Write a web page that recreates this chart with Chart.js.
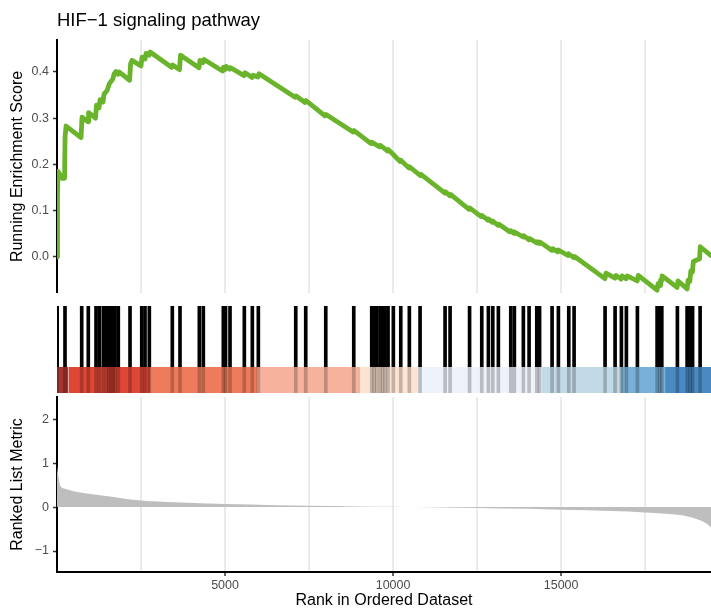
<!DOCTYPE html>
<html>
<head>
<meta charset="utf-8">
<script src="https://cdn.jsdelivr.net/npm/chart.js@4.4.0/dist/chart.umd.min.js"></script>
<style>
  html, body { margin: 0; padding: 0; background: #fff; }
  #wrap { position: relative; width: 711px; height: 609px; overflow: hidden; }
  #wrap canvas { position: absolute; left: 0; }
</style>
</head>
<body>
<div id="wrap">
  <canvas id="es" width="711" height="293" style="top:0"></canvas>
  <canvas id="hits" width="711" height="104" style="top:293px"></canvas>
  <canvas id="metric" width="711" height="219" style="top:390px"></canvas>
</div>
<script>
// ---- data ----
const RANK_MAX = 19460;

const hitRanks = [5, 238, 735, 931, 1161, 1259, 1378, 1479, 1548, 1607, 1667, 1726, 1824, 2173,
  2521, 2619, 2747, 3431, 3660, 4235, 4354, 4949, 5015, 5148, 5574, 5812, 5991, 7104, 7401,
  7997, 8830, 9365, 9434, 9514, 9612, 9687, 9761, 9850, 10008, 10229, 10484, 10803, 11547,
  11696, 12276, 12639, 12836, 12967, 13133, 13502, 13609, 13877, 14047, 14276, 14359, 14731,
  14919, 15228, 15386, 16308, 16606, 16794, 16942, 17270, 17856, 17930, 17996, 18460, 18749,
  18838, 18912, 19136];

const esRanks = [0, 15, 30, 150, 225, 240, 270, 715, 745, 925, 940, 1145, 1175, 1250, 1280, 1370,
  1400, 1490, 1560, 1665, 1695, 1755, 1815, 1845, 2160, 2190, 2230, 2500, 2530, 2620, 2650, 2740,
  2770, 3410, 3440, 3645, 3675, 4225, 4255, 4345, 4375, 4925, 4955, 5000, 5030, 5135, 5165, 5565,
  5595, 5805, 5835, 5980, 6010, 7085, 7115, 7380, 7410, 7975, 8005, 8810, 8840, 9345, 9370, 9600,
  9620, 9840, 9860, 10000, 10210, 10230, 10475, 10490, 10805, 10820, 11545, 11560, 11695, 11710,
  12260, 12280, 12620, 12640, 12830, 12840, 12945, 12960, 13125, 13140, 13480, 13500, 13600,
  13615, 13870, 13885, 14045, 14060, 14280, 14295, 14360, 14375, 14730, 14745, 14905, 14920,
  15200, 15215, 15385, 15400, 16305, 16335, 16605, 16635, 16785, 16815, 16935, 16965, 17265,
  17295, 17855, 17885, 17945, 17960, 17990, 18005, 18450, 18480, 18750, 18780, 18830, 18860,
  18905, 18935, 19120, 19140, 19460];
const esScores = [0.0, 0.13, 0.185, 0.17, 0.17, 0.26, 0.283, 0.258, 0.302, 0.292, 0.312, 0.3, 0.328,
  0.322, 0.34, 0.335, 0.352, 0.36, 0.375, 0.385, 0.395, 0.401, 0.395, 0.4, 0.382, 0.418, 0.425,
  0.413, 0.432, 0.428, 0.44, 0.436, 0.443, 0.41, 0.415, 0.405, 0.436, 0.409, 0.425, 0.42, 0.427,
  0.402, 0.41, 0.405, 0.412, 0.406, 0.409, 0.392, 0.398, 0.388, 0.393, 0.389, 0.396, 0.345, 0.348,
  0.334, 0.338, 0.305, 0.308, 0.27, 0.273, 0.245, 0.248, 0.238, 0.241, 0.229, 0.232, 0.222, 0.206,
  0.209, 0.192, 0.195, 0.176, 0.179, 0.138, 0.141, 0.132, 0.135, 0.103, 0.106, 0.087, 0.09, 0.079,
  0.082, 0.075, 0.078, 0.068, 0.071, 0.054, 0.057, 0.051, 0.054, 0.043, 0.046, 0.037, 0.04, 0.03,
  0.033, 0.029, 0.032, 0.014, 0.018, 0.011, 0.015, 0.003, 0.007, -0.002, 0.001, -0.047, -0.035,
  -0.046, -0.04, -0.048, -0.041, -0.047, -0.041, -0.052, -0.04, -0.072, -0.058, -0.062, -0.05,
  -0.052, -0.041, -0.066, -0.052, -0.069, -0.05, -0.053, -0.03, -0.033, -0.01, -0.004, 0.022, 0.003];

const metricRanks = [0, 30, 90, 240, 685, 1280, 1875, 2500, 3500, 5000, 6500, 7500, 9000, 10000,
  10700, 11500, 12500, 14000, 15000, 16500, 17500, 18300, 18640, 19136, 19300, 19383, 19460];
const metricValues = [0.93, 0.77, 0.5, 0.42, 0.33, 0.27, 0.21, 0.15, 0.11, 0.07, 0.045, 0.03, 0.016,
  0.008, 0.0, -0.008, -0.02, -0.04, -0.06, -0.09, -0.12, -0.16, -0.19, -0.3, -0.36, -0.41, -0.47];

// colour band: rank breaks and one fill per interval
const bandBreaks = [0, 342, 2768, 5952, 9017, 10743, 14419, 16785, 18094, 19460];
const bandColors = ['#A5332F', '#DE4636', '#EE7B5C', '#F6B29D', '#FCE3D3', '#EEF2FA', '#C2D9E8', '#79B0D9', '#4A89C2'];

const esTicks = [0, 0.1, 0.2, 0.3, 0.4];
const metricTicks = [-1, 0, 1, 2];
const gridRanks = [2500, 5000, 7500, 10000, 12500, 15000, 17500];
const rankLabels = [5000, 10000, 15000];

// ---- styling ----
Chart.defaults.font.family = '"Liberation Sans", Arial, Helvetica, sans-serif';
Chart.defaults.animation = false;
const GRID = '#EBEBEB';
const TICK_TXT = '#4D4D4D';
const BAND_TOP = 0.3;
const noPlugins = { legend: { display: false }, tooltip: { enabled: false } };
const setTicks = vals => scale => { scale.ticks = vals.map(v => ({ value: v })); };
// fixed axis width, and no extra room reserved for half tick labels
const fixWidth = w => s => { s.width = w; s.paddingTop = 0; s.paddingBottom = 0; };
const fixHeight = h => s => { s.height = h; s.paddingLeft = 0; s.paddingRight = 0; };

// top panel: running enrichment score
new Chart(document.getElementById('es'), {
  type: 'line',
  data: {
    datasets: [{
      data: esRanks.map((r, i) => ({ x: r, y: esScores[i] })),
      borderColor: '#6AB42C',
      borderWidth: 4.8,
      pointRadius: 0,
      tension: 0,
      borderCapStyle: 'round',
      borderJoinStyle: 'round'
    }]
  },
  options: {
    responsive: false,
    layout: { padding: 0 },
    plugins: {
      ...noPlugins,
      title: {
        display: true, text: 'HIF−1 signaling pathway', align: 'start', fullSize: false,
        color: '#000', font: { size: 18.5, weight: 'normal' }, padding: { top: 10, bottom: 7.8 }
      }
    },
    scales: {
      x: {
        type: 'linear', min: 0, max: RANK_MAX,
        afterBuildTicks: setTicks(gridRanks),
        afterFit: fixHeight(0),
        ticks: { display: false },
        border: { display: false },
        grid: { color: GRID, lineWidth: 2, drawTicks: false }
      },
      y: {
        min: -0.078, max: 0.469,
        afterBuildTicks: setTicks(esTicks),
        afterFit: fixWidth(57),
        ticks: { color: TICK_TXT, font: { size: 12.5 }, padding: 4, callback: v => Number(v).toFixed(1) },
        grid: { drawOnChartArea: false, tickLength: 4, tickColor: '#333', tickWidth: 1.5 },
        border: { color: '#000', width: 2 },
        title: { display: true, text: 'Running Enrichment Score', color: '#000', font: { size: 16, lineHeight: 1 }, padding: { top: 10, bottom: 0 } }
      }
    }
  }
});

// middle panel: hits and the colour band
const bandSets = bandColors.map((c, i) => ({
  type: 'line',
  data: [{ x: bandBreaks[i], y: BAND_TOP }, { x: bandBreaks[i + 1], y: BAND_TOP }],
  backgroundColor: c,
  borderColor: 'rgba(0,0,0,0)',
  borderWidth: 0,
  pointRadius: 0,
  fill: { value: 0 },
  order: 2
}));

new Chart(document.getElementById('hits'), {
  type: 'bar',
  data: {
    datasets: [
      {
        data: hitRanks.map(r => ({ x: r, y: [BAND_TOP, 1] })),
        backgroundColor: '#000', barThickness: 3, grouped: false, order: 3
      },
      ...bandSets,
      {
        data: hitRanks.map(r => ({ x: r, y: [0, BAND_TOP] })),
        backgroundColor: 'rgba(0,0,0,0.22)', barThickness: 3, grouped: false, order: 1
      }
    ]
  },
  options: {
    responsive: false,
    layout: { padding: { top: 13, bottom: 4, left: 57, right: 0 } },
    plugins: noPlugins,
    scales: {
      x: { type: 'linear', min: 0, max: RANK_MAX, offset: false, display: false },
      y: { type: 'linear', min: 0, max: 1, display: false }
    }
  }
});

// bottom panel: ranked list metric
new Chart(document.getElementById('metric'), {
  type: 'line',
  data: {
    datasets: [{
      data: metricRanks.map((r, i) => ({ x: r, y: metricValues[i] })),
      borderWidth: 0,
      borderColor: 'rgba(0,0,0,0)',
      backgroundColor: '#BEBEBE',
      fill: 'origin',
      pointRadius: 0,
      cubicInterpolationMode: 'monotone'
    }]
  },
  options: {
    responsive: false,
    layout: { padding: { top: 7, left: 0, right: 0, bottom: 0 } },
    plugins: noPlugins,
    scales: {
      x: {
        type: 'linear', min: 0, max: RANK_MAX,
        afterBuildTicks: setTicks(gridRanks),
        afterFit: fixHeight(37),
        ticks: {
          autoSkip: false, maxRotation: 0, color: TICK_TXT, font: { size: 12.5 }, padding: 2,
          callback: v => rankLabels.includes(v) ? String(v) : ''
        },
        grid: {
          color: GRID, lineWidth: 2, tickLength: 4, tickWidth: 1.5,
          tickColor: c => (c.tick && rankLabels.includes(c.tick.value)) ? '#333' : 'rgba(0,0,0,0)'
        },
        border: { color: '#000', width: 2 },
        title: { display: true, text: 'Rank in Ordered Dataset', color: '#000', font: { size: 16, lineHeight: 1 }, padding: { top: 0, bottom: 0 } }
      },
      y: {
        min: -1.478, max: 2.508,
        afterBuildTicks: setTicks(metricTicks),
        afterFit: fixWidth(57),
        ticks: { color: TICK_TXT, font: { size: 12.5 }, padding: 4, callback: v => v < 0 ? '−' + Math.abs(v) : String(v) },
        grid: { drawOnChartArea: false, tickLength: 4, tickColor: '#333', tickWidth: 1.5 },
        border: { color: '#000', width: 2 },
        title: { display: true, text: 'Ranked List Metric', color: '#000', font: { size: 16, lineHeight: 1 }, padding: { top: 10, bottom: 0 } }
      }
    }
  }
});
</script>
</body>
</html>
